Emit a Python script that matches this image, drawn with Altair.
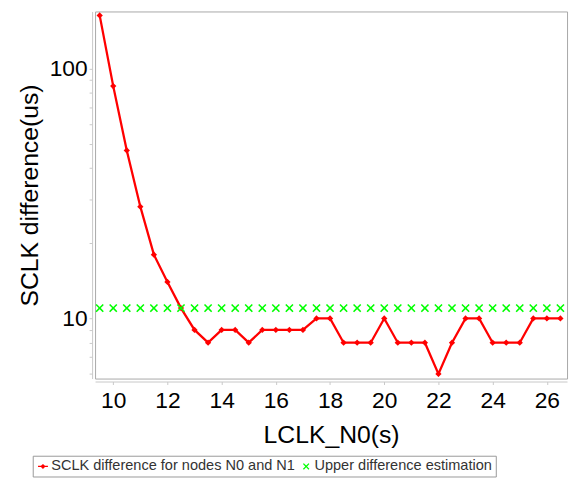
import altair as alt
import pandas as pd

# ---- data ----
lclk = [9.5, 10, 10.5, 11, 11.5, 12, 12.5, 13, 13.5, 14, 14.5, 15, 15.5, 16, 16.5,
        17, 17.5, 18, 18.5, 19, 19.5, 20, 20.5, 21, 21.5, 22, 22.5, 23, 23.5, 24,
        24.5, 25, 25.5, 26, 26.5]
sclk_diff = [163, 85, 47, 28, 18, 14, 11, 9, 8, 9, 9, 8, 9, 9, 9,
             9, 10, 10, 8, 8, 8, 10, 8, 8, 8, 6, 8, 10, 10, 8,
             8, 8, 10, 10, 10]
upper_est = [11, 11, 11, 11, 11, 11, 11, 11, 11, 11, 11, 11, 11, 11, 11,
             11, 11, 11, 11, 11, 11, 11, 11, 11, 11, 11, 11, 11, 11, 11,
             11, 11, 11, 11, 11]
series_names = ["SCLK difference for nodes N0 and N1", "Upper difference estimation"]
series_colors = ["#ff0000", "#00ff00"]
x_ticks = [10, 12, 14, 16, 18, 20, 22, 24, 26]
y_ticks = [6, 7, 8, 9, 10, 20, 30, 40, 50, 60, 70, 80, 90, 100]

df = pd.DataFrame({"x": lclk, "sclk": sclk_diff, "upper": upper_est})
legend_df = pd.DataFrame({"series": series_names, "x": [0, 0], "y": [10, 10]})

FONT = "Liberation Sans"
X_PATH = ("M-1,-0.73L-0.73,-1L0,-0.27L0.73,-1L1,-0.73L0.27,0L1,0.73L0.73,1"
          "L0,0.27L-0.73,1L-1,0.73L-0.27,0Z")
LEG_RED = ("M-1,-0.12L-0.4,-0.12L0,-0.5L0.4,-0.12L1,-0.12L1,0.12L0.4,0.12"
           "L0,0.5L-0.4,0.12L-1,0.12Z")
LEG_X = ("M-0.65,-0.47L-0.47,-0.65L0,-0.18L0.47,-0.65L0.65,-0.47L0.18,0L0.65,0.47"
         "L0.47,0.65L0,0.18L-0.47,0.65L-0.65,0.47L-0.18,0Z")

xscale = alt.Scale(domain=[9.33, 26.745], nice=False, zero=False)
yscale = alt.Scale(type="log", domain=[5.75, 169], nice=False)

xaxis = alt.Axis(values=x_ticks, title="LCLK_N0(s)", grid=False, offset=3,
                 labelFont=FONT, labelFontSize=23, labelColor="black",
                 labelPadding=5, tickSize=3, tickColor="#c8c8c8",
                 domainColor="#c8c8c8", labelFlush=False,
                 titleFont=FONT, titleFontSize=25, titleFontWeight="normal",
                 titleColor="black", titleBaseline="alphabetic", titleY=62)
yaxis = alt.Axis(values=y_ticks, title="SCLK difference(us)", grid=False, offset=3,
                 labelExpr="datum.value == 10 || datum.value == 100 ? format(datum.value, 'd') : ''",
                 labelFont=FONT, labelFontSize=23, labelColor="black",
                 labelPadding=2, tickSize=3, tickColor="#c8c8c8",
                 domainColor="#c8c8c8", labelOverlap=False, labelFlush=False,
                 titleFont=FONT, titleFontSize=25, titleFontWeight="normal",
                 titleColor="black", titleAngle=270, titleAlign="center",
                 titleBaseline="middle", titleX=-63, titleY=185.5)

base = alt.Chart(df)
line = base.mark_line(color="#ff0000", strokeWidth=2.3).encode(
    x=alt.X("x:Q", scale=xscale, axis=xaxis),
    y=alt.Y("sclk:Q", scale=yscale, axis=yaxis),
)
red_pts = base.mark_point(filled=True, shape="diamond", size=40, color="#ff0000",
                          opacity=1).encode(
    x=alt.X("x:Q", scale=xscale), y=alt.Y("sclk:Q", scale=yscale))
green_pts = base.mark_point(filled=True, shape=X_PATH, size=70, color="#00ff00",
                            opacity=1).encode(
    x=alt.X("x:Q", scale=xscale), y=alt.Y("upper:Q", scale=yscale))

leg_kwargs = dict(orient="none", legendX=-63, legendY=449, direction="horizontal",
                  title=None, strokeColor="#999999", padding=3,
                  labelFont=FONT, labelFontSize=14.7, labelColor="#333333",
                  labelLimit=0, symbolSize=100, labelOffset=1, columnPadding=3,
                  symbolStrokeWidth=0)
legend_layer = alt.Chart(legend_df).mark_point(filled=True, clip=True, opacity=1).encode(
    x=alt.X("x:Q", scale=xscale),
    y=alt.Y("y:Q", scale=yscale),
    color=alt.Color("series:N", scale=alt.Scale(domain=series_names, range=series_colors),
                    legend=alt.Legend(**leg_kwargs)),
    shape=alt.Shape("series:N", scale=alt.Scale(domain=series_names, range=[LEG_RED, LEG_X]),
                    legend=alt.Legend(**leg_kwargs)),
)

chart = alt.layer(line, red_pts, green_pts, legend_layer).properties(
    width=477, height=371,
    autosize=alt.AutoSizeParams(type="none"),
    padding={"left": 88, "top": 1, "right": 4, "bottom": 98},
).configure_view(stroke="#a8a8a8", strokeWidth=1)

chart.save("out.html", embed_options={"renderer": "svg", "actions": False})
